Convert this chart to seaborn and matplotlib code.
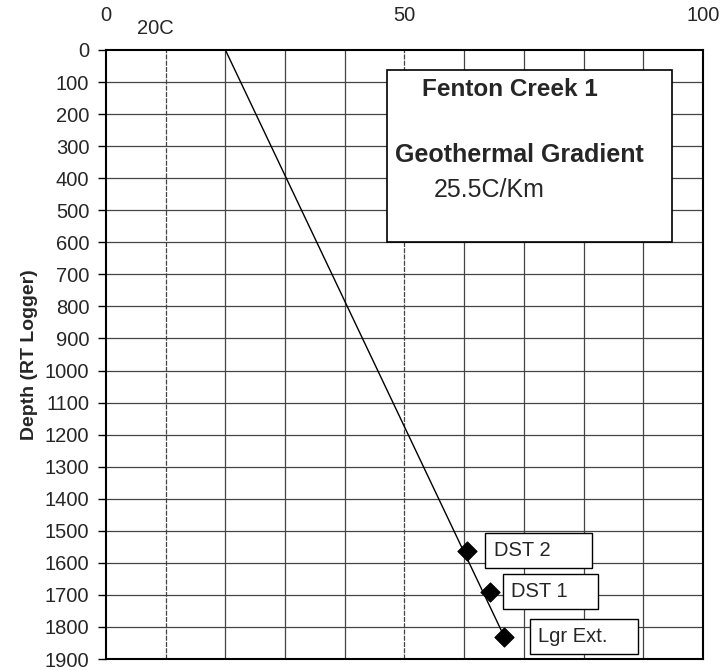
import matplotlib
matplotlib.use("Agg")
import matplotlib.pyplot as plt
from matplotlib.patches import Rectangle
import pandas as pd
import seaborn as sns

# Datos
line_temp = [20.0, 66.7]
line_depth = [0, 1830]

point_names = ["DST 2", "DST 1", "Lgr Ext."]
point_temp = [60.5, 64.4, 66.6]
point_depth = [1562, 1690, 1830]

x_ticks = [0, 50, 100]
y_ticks = list(range(0, 2000, 100))

sns.set_style("white")
plt.rcParams["font.family"] = ["Liberation Sans", "DejaVu Sans"]

fig = plt.figure(figsize=(7.23, 6.7), dpi=100)
ax = fig.add_axes([0.1466, 0.0164, 0.9723 - 0.1466, 0.9254 - 0.0164])

# Rejilla
for gx in range(10, 100, 10):
    ax.axvline(gx, color="#444444", lw=0.9, ls=(0, (4, 1)) if gx in (10, 50) else "-", zorder=0)
for gy in range(100, 1900, 100):
    ax.axhline(gy, color="#444444", lw=0.9, zorder=0)

# Linea de gradiente y puntos
df_line = pd.DataFrame({"temp": line_temp, "depth": line_depth})
sns.lineplot(data=df_line, x="temp", y="depth", color="black", lw=1.0, ax=ax,
             sort=False, estimator=None, zorder=3)

df_pts = pd.DataFrame({"name": point_names, "temp": point_temp, "depth": point_depth})
sns.scatterplot(data=df_pts, x="temp", y="depth", marker="D", s=95, color="black",
                edgecolor="black", ax=ax, zorder=4)

# Etiquetas de los puntos
offsets = [19, 15, 25]
labels_txt = ["DST 2      ", "DST 1    ", "Lgr Ext.    "]
for (t, d, off, lab) in zip(point_temp, point_depth, offsets, labels_txt):
    ax.annotate(lab, (t, d), xytext=(off, 0), textcoords="offset points",
                ha="left", va="center", fontsize=14.5,
                bbox=dict(boxstyle="square,pad=0.4", fc="white", ec="black", lw=1.0),
                zorder=5)

# Cuadro de texto
ax.add_patch(Rectangle((47.1, 62), 47.7, 536, fc="white", ec="black", lw=1.2, zorder=5))
ax.text(52.9, 143, "Fenton Creek 1", fontsize=17.5, fontweight="bold", va="baseline", zorder=6)
ax.text(48.4, 349, "Geothermal Gradient", fontsize=18, fontweight="bold", va="baseline", zorder=6)
ax.text(54.9, 458, "25.5C/Km", fontsize=18, va="baseline", zorder=6)

ax.text(8.2, -68, "20C", fontsize=14.5, ha="center", va="center", clip_on=False)

ax.set_xlim(0, 100)
ax.set_ylim(1900, 0)
ax.xaxis.tick_top()
ax.set_xticks(x_ticks)
ax.set_yticks(y_ticks)
ax.tick_params(axis="x", length=0, pad=18, labelsize=14.5)
ax.tick_params(axis="y", length=6, width=1, pad=6, labelsize=14.5, left=True, color="black")
ax.set_xlabel("")
ax.set_ylabel("Depth (RT Logger)", fontsize=14, fontweight="bold", labelpad=5)
for sp in ax.spines.values():
    sp.set_color("black")
    sp.set_linewidth(1.5)

fig.savefig("out.png", dpi=100)
